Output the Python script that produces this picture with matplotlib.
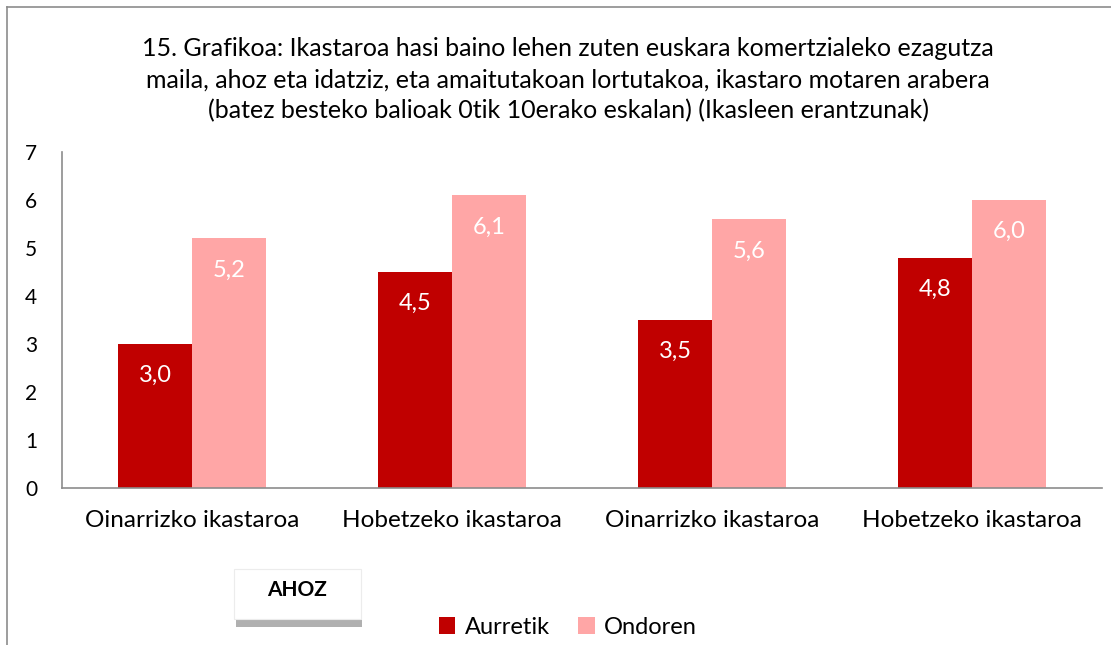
import numpy as np
import matplotlib.pyplot as plt
from matplotlib.patches import Rectangle

plt.rcParams['font.family'] = ['Lato', 'DejaVu Sans']

categories = ["Oinarrizko ikastaroa", "Hobetzeko ikastaroa",
              "Oinarrizko ikastaroa", "Hobetzeko ikastaroa"]
aurretik = [3.0, 4.5, 3.5, 4.8]
ondoren = [5.2, 6.1, 5.6, 6.0]
yticks = [0, 1, 2, 3, 4, 5, 6, 7]

title = ("15. Grafikoa: Ikastaroa hasi baino lehen zuten euskara komertzialeko ezagutza\n"
         "maila, ahoz eta idatziz, eta amaitutakoan lortutakoa, ikastaro motaren arabera\n"
         "(batez besteko balioak 0tik 10erako eskalan) (Ikasleen erantzunak)")

dark = "#C00000"
pink = "#FFA6A6"

fig = plt.figure(figsize=(11.11, 6.45), dpi=100)
W, H = 1111, 645

# chart border (only top and left visible in the crop)
fig.add_artist(plt.Line2D([7 / W, 7 / W], [0, 1 - 7 / H], color="#8c8c8c", lw=1.2))
fig.add_artist(plt.Line2D([7 / W, 1], [1 - 7 / H, 1 - 7 / H], color="#8c8c8c", lw=1.2))

ax = fig.add_axes([62 / W, 1 - 488 / H, (1102 - 62) / W, (488 - 152) / H])

x = np.arange(len(categories))
w = 0.285
b1 = ax.bar(x - w / 2, aurretik, w, color=dark, label="Aurretik")
b2 = ax.bar(x + w / 2, ondoren, w, color=pink, label="Ondoren")

for bars, vals in ((b1, aurretik), (b2, ondoren)):
    for bar, v in zip(bars, vals):
        ax.text(bar.get_x() + bar.get_width() / 2, v - 0.66, f"{v:.1f}".replace(".", ","),
                ha="center", va="center", color="white", fontsize=17)

ax.set_xlim(-0.5, len(categories) - 0.5)
ax.set_ylim(0, 7)
ax.set_yticks(yticks)
ax.set_xticks(x)
ax.set_xticklabels(categories, fontsize=17.5)
ax.tick_params(axis="y", labelsize=15, length=0, pad=18)
ax.tick_params(axis="x", length=0, pad=16)
for s in ("top", "right"):
    ax.spines[s].set_visible(False)
for s in ("left", "bottom"):
    ax.spines[s].set_color("#8c8c8c")
    ax.spines[s].set_linewidth(1.2)

fig.text(568 / W, 1 - 80 / H, title, ha="center", va="center", fontsize=18,
         linespacing=1.42)

# AHOZ box with shadow
fig.add_artist(Rectangle((236 / W, 1 - 627 / H), 126 / W, 52 / H,
                         facecolor="#b0b0b0", edgecolor="none"))
fig.add_artist(Rectangle((234 / W, 1 - 619 / H), 127 / W, 50 / H,
                         facecolor="white", edgecolor="#ececec", lw=0.8))
fig.text(297 / W, 1 - 590 / H, "AHOZ", ha="center", va="center",
         fontsize=15, fontweight="bold")

fig.legend(handles=[b1, b2], labels=["Aurretik", "Ondoren"], loc="center",
           bbox_to_anchor=(568 / W, 1 - 627 / H), ncol=2, frameon=False,
           fontsize=17, handlelength=0.7, handleheight=0.7, handletextpad=0.4,
           columnspacing=1.2)

fig.savefig("out.png", dpi=100)
